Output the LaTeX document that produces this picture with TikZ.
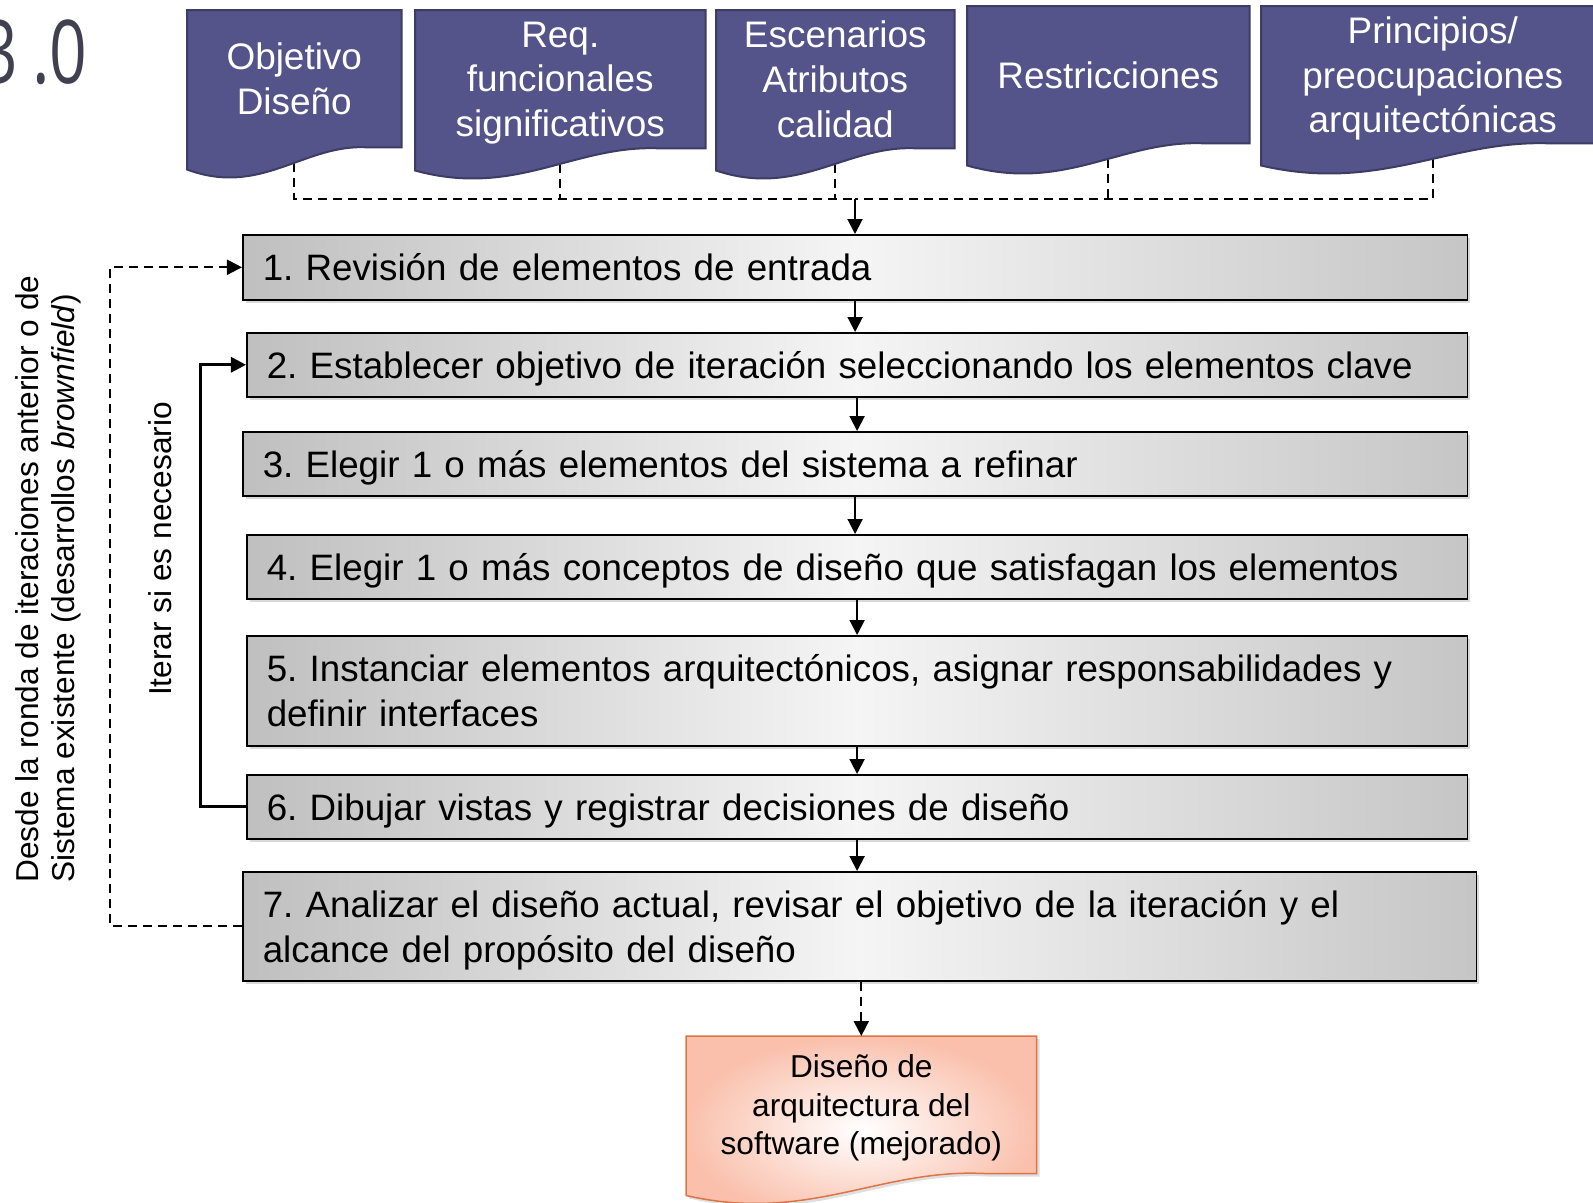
\documentclass[tikz,border=0pt]{standalone}
\usepackage{fontspec}
\setmainfont{Liberation Sans}
\newfontfamily\numfont[FakeStretch=0.75]{Open Sans}
\usetikzlibrary{arrows.meta,calc,shadows}
\frenchspacing

\definecolor{docblue}{RGB}{84,84,138}
\definecolor{docline}{RGB}{60,60,100}
\definecolor{salmon}{RGB}{250,192,172}
\definecolor{outline}{RGB}{222,116,70}
\definecolor{titlegray}{RGB}{64,64,80}

\pgfdeclarelayer{back}
\pgfdeclarelayer{docs}
\pgfsetlayers{back,docs,main}

% outline of a document symbol around the node #1
\newcommand{\docwave}[2]{%
  \path[#2] (#1.north west) -- (#1.north east) -- (#1.south east)
    -- ($(#1.south west)!0.85!(#1.south east)$)
    .. controls ($(#1.south west)!0.55!(#1.south east)+(0,-5)$)
    and ($(#1.south west)!0.35!(#1.south east)+(0,50)$)
    .. ($(#1.south west)+(0,22)$) -- cycle;}

\tikzset{
  docnode/.style={inner sep=0pt, align=center, text=white, anchor=north west,
    text depth=0pt, font=\fontsize{10.5}{12.7}\selectfont},
  docfill/.style={fill=docblue, draw=docline, line width=0.02cm},
  outfill/.style={inner color=white, outer color=salmon, draw=outline,
    line width=0.015cm, drop shadow={opacity=0.25, shadow xshift=0.03cm, shadow yshift=-0.03cm}},
  stepbox/.style 2 args={draw=black, line width=0.015cm, anchor=north west,
    align=left, inner xsep=0.2cm, inner ysep=0pt, text width=#1, minimum height=#2,
    text depth=0pt,
    left color=gray!50, right color=gray!45, middle color=gray!8,
    drop shadow={opacity=0.3, shadow xshift=0.03cm, shadow yshift=-0.03cm},
    font=\fontsize{10.45}{12.7}\selectfont},
  twolines/.style={text depth=12.7pt},
  sidetext/.style={rotate=90, align=left, inner sep=0pt, font=\fontsize{9}{10.3}\selectfont},
  dashline/.style={draw=black, line width=0.02cm, dash pattern=on 0.09cm off 0.06cm},
  arrowline/.style={draw=black, line width=0.02cm, -{Triangle[length=0.15cm,width=0.15cm]}},
}

\begin{document}
\begin{tikzpicture}[x=0.01cm, y=-0.01cm]
  \useasboundingbox (0,0) rectangle (1593,1202);

  \node[anchor=base east, inner sep=0pt, text=titlegray,
    font=\numfont\fontsize{25}{25}\selectfont] (num) at (88,83) {3\kern4pt.0};

  % input documents
  \node[docnode, minimum width=2.13cm, minimum height=1.36cm] (d1) at (187,10) {Objetivo\\Diseño};
  \node[docnode, minimum width=2.89cm, minimum height=1.37cm] (d2) at (415,10) {Req.\\funcionales\\significativos};
  \node[docnode, minimum width=2.37cm, minimum height=1.37cm] (d3) at (716,10) {Escenarios\\Atributos\\calidad};
  \node[docnode, minimum width=2.81cm, minimum height=1.36cm] (d4) at (967,6) {Restricciones};
  \node[docnode, minimum width=3.42cm, minimum height=1.36cm] (d5) at (1261,6) {Principios/\\preocupaciones\\arquitectónicas};

  \begin{pgfonlayer}{docs}
    \foreach \d in {d1,d2,d3,d4,d5} {
      \docwave{\d}{docfill}
    }
  \end{pgfonlayer}

  % steps
  \node[stepbox={11.84cm}{0.65cm}] (b1) at (242,234) {1. Revisión de elementos de entrada};
  \node[stepbox={11.80cm}{0.64cm}] (b2) at (246,332) {2. Establecer objetivo de iteración seleccionando los elementos clave};
  \node[stepbox={11.84cm}{0.64cm}] (b3) at (242,431) {3. Elegir 1 o más elementos del sistema a refinar};
  \node[stepbox={11.80cm}{0.64cm}] (b4) at (246,534) {4. Elegir 1 o más conceptos de diseño que satisfagan los elementos};
  \node[stepbox={11.80cm}{1.10cm}, twolines] (b5) at (246,635) {5. Instanciar elementos arquitectónicos, asignar responsabilidades y\\definir interfaces};
  \node[stepbox={11.80cm}{0.64cm}] (b6) at (246,774) {6. Dibujar vistas y registrar decisiones de diseño};
  \node[stepbox={11.93cm}{1.09cm}, twolines] (b7) at (242,871) {7. Analizar el diseño actual, revisar el objetivo de la iteración y el\\alcance del propósito del diseño};

  % output document
  \node[docnode, text=black, font=\fontsize{9}{10.9}\selectfont,
    minimum width=3.49cm, minimum height=1.36cm] (out) at (686,1036)
    {Diseño de\\arquitectura del\\software (mejorado)};
  \begin{pgfonlayer}{docs}
    \docwave{out}{outfill}
  \end{pgfonlayer}

  % inputs join above step 1
  \coordinate (join) at (855,199);
  \begin{pgfonlayer}{back}
    \draw[dashline] (d1.south) |- (join);
    \draw[dashline] (d5.south) |- (join);
    \foreach \d in {d2,d3,d4} {
      \draw[dashline] (\d.south) -- (\d.south |- join);
    }
  \end{pgfonlayer}
  \draw[arrowline] (join) -- (join |- b1.north);

  % flow between the steps
  \foreach \a/\b in {b1/b2,b2/b3,b3/b4,b4/b5,b5/b6,b6/b7} {
    \draw[arrowline] (\a.south) -- (\a.south |- \b.north);
  }
  \draw[dashline, arrowline] (b7.south -| out.north) -- (out.north);

  % loops back
  \draw[arrowline, line width=0.03cm] (b6.west) -- ++(-46,0) |- (b2.west);
  \draw[dashline, arrowline] (b7.west) -- ++(-132,0) |- (b1.west);

  \node[sidetext] (iter) at (160,549) {Iterar si es necesario};
  \node[sidetext] (src) at (48,579) {Desde la ronda de iteraciones anterior o de\\Sistema existente (desarrollos \textit{brownfield})};
\end{tikzpicture}
\end{document}
